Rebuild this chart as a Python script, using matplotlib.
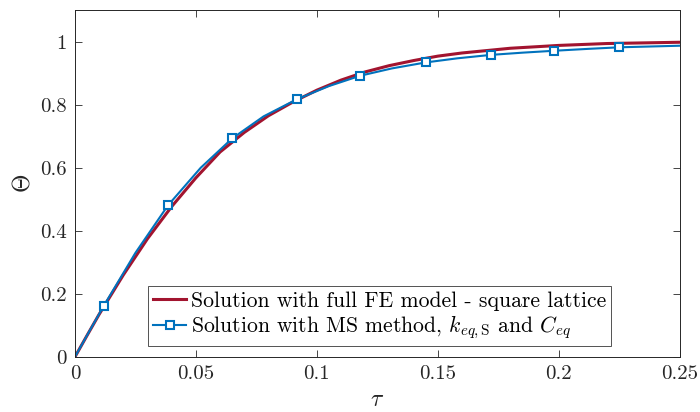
import numpy as np
import matplotlib
matplotlib.use("Agg")
import matplotlib.pyplot as plt

plt.rcParams['font.family'] = 'serif'
plt.rcParams['font.serif'] = ['cmr10', 'DejaVu Serif']
plt.rcParams['mathtext.fontset'] = 'cm'
plt.rcParams['axes.unicode_minus'] = False

# full FE model - square lattice
tau_fe = [0, 0.005, 0.01, 0.02, 0.03, 0.04, 0.05, 0.06, 0.07, 0.08, 0.09, 0.10,
          0.11, 0.12, 0.13, 0.14, 0.15, 0.16, 0.18, 0.20, 0.22, 0.25]
theta_fe = [0, 0.068, 0.135, 0.26, 0.375, 0.477, 0.568, 0.650, 0.712, 0.765, 0.808, 0.846,
            0.878, 0.904, 0.924, 0.940, 0.954, 0.964, 0.979, 0.988, 0.994, 0.998]

# MS method
tau_ms = [0, 0.006, 0.012, 0.025, 0.0385, 0.052, 0.065, 0.078, 0.0917, 0.105,
          0.118, 0.131, 0.145, 0.158, 0.172, 0.185, 0.198, 0.212, 0.225, 0.25]
theta_ms = [0, 0.082, 0.163, 0.33, 0.481, 0.600, 0.693, 0.763, 0.817, 0.859,
            0.892, 0.915, 0.934, 0.947, 0.958, 0.965, 0.971, 0.977, 0.982, 0.987]
marker_idx = [2, 4, 6, 8, 10, 12, 14, 16, 18]

x_ticks = [0, 0.05, 0.1, 0.15, 0.2, 0.25]
x_labels = ['0', '0.05', '0.1', '0.15', '0.2', '0.25']
y_ticks = [0, 0.2, 0.4, 0.6, 0.8, 1]
y_labels = ['0', '0.2', '0.4', '0.6', '0.8', '1']

fig = plt.figure(figsize=(7, 4.12), dpi=100)
ax = fig.add_axes([0.107, 0.1335, 0.864, 0.842])

ax.plot(tau_fe, theta_fe, color='#A2142F', lw=2.2,
        label='Solution with full FE model - square lattice')
ax.plot(tau_ms, theta_ms, color='#0072BD', lw=1.5, marker='s', markersize=5.5,
        markerfacecolor='white', markeredgewidth=1.5, markevery=marker_idx,
        label=r'Solution with MS method, $k_{eq,\mathrm{S}}$ and $C_{eq}$')

ax.set_xlim(0, 0.25)
ax.set_ylim(0, 1.1)
ax.set_xticks(x_ticks, labels=x_labels)
ax.set_yticks(y_ticks, labels=y_labels)
ax.tick_params(direction='in', top=True, right=True, labelsize=15, colors='#262626',
               length=5, width=0.6, pad=6)
for s in ax.spines.values():
    s.set_color('#262626')
    s.set_linewidth(0.7)

ax.set_xlabel(r'$\tau$', fontsize=17, color='#262626')
ax.set_ylabel(r'$\Theta$', fontsize=17, color='#262626')

leg = ax.legend(loc='lower left', bbox_to_anchor=(0.121, 0.032), fontsize=15.6,
                frameon=True, fancybox=False, edgecolor='#262626', handlelength=1.55,
                handletextpad=0.2, borderpad=0.22, labelspacing=0.15, borderaxespad=0)
leg.get_frame().set_linewidth(0.7)

fig.savefig('out.png', dpi=100)
